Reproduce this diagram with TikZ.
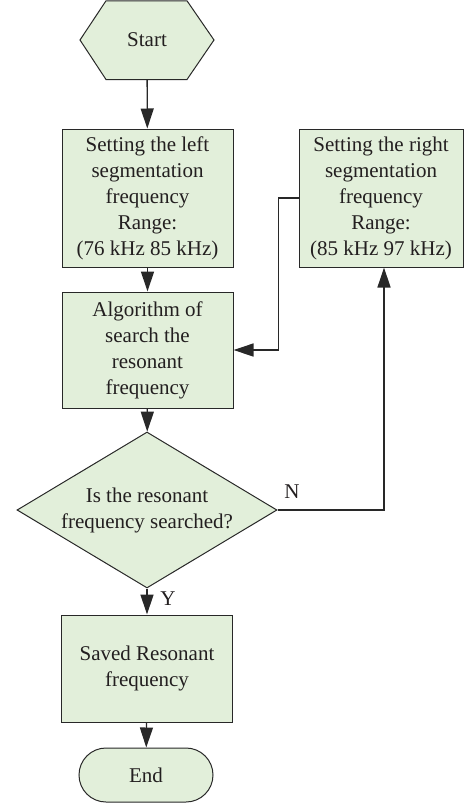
\documentclass[tikz,border=0pt]{standalone}
\usepackage{fontspec}
\setmainfont{Liberation Serif}
\usetikzlibrary{arrows.meta,shapes.geometric,shapes.misc,calc}
\definecolor{boxfill}{RGB}{226,239,218}
\definecolor{edgec}{RGB}{40,40,40}
\definecolor{txt}{RGB}{35,31,32}
\begin{document}
\begin{tikzpicture}[x=1pt,y=-1pt,
  every node/.style={font=\fontsize{21}{26}\selectfont, text=txt},
  proc/.style={draw=edgec, fill=boxfill, line width=1pt, align=center, inner sep=0pt, minimum width=171pt},
  conn/.style={draw=edgec, line width=1.3pt, -{Triangle[length=20pt,width=13pt]}},
  lbl/.style={inner sep=0pt}
]
\useasboundingbox (0,0) rectangle (465,803);
% start hexagon
\draw[draw=edgec, fill=boxfill, line width=1pt] (80,40) -- (106,0.8) -- (187,0.8) -- (214,40) -- (187,79.5) -- (106,79.5) -- cycle;
\node[minimum width=134pt, minimum height=79pt, inner sep=0pt] (start) at (147,40) {Start};

\node[proc, minimum height=138pt] (left) at (147.5,198) {Setting the left\\segmentation\\frequency\\Range:\\(76 kHz 85 kHz)};
\node[proc, minimum width=164pt, minimum height=138pt] (right) at (381,198) {Setting the right\\segmentation\\frequency\\Range:\\(85 kHz 97 kHz)};
\node[proc, minimum height=116pt] (algo) at (147.5,350) {Algorithm of\\search the\\resonant\\frequency};
\node[draw=edgec, fill=boxfill, line width=1pt, diamond, aspect=1.667, minimum width=260pt, minimum height=156pt, inner sep=0pt, align=center] (dec) at (147,510) {Is the resonant\\frequency searched?};
\node[proc, minimum height=107pt] (saved) at (147,668.5) {Saved Resonant\\frequency};
\node[draw=edgec, fill=boxfill, line width=1pt, rounded rectangle, minimum width=134pt, minimum height=54pt, inner sep=0pt] (end) at (146,775) {End};

\draw[conn] (start) -- (left);
\draw[conn] (left) -- (algo);
\draw[conn] (algo) -- (dec);
\draw[conn] (dec) -- (saved);
\draw[conn] (saved) -- (end);
\draw[conn] (right.west) -- ++(-20,0) |- (algo.east);
\draw[conn] (dec.east) -| ([xshift=3pt]right.south);
\node[lbl] (nlab) at (292,492) {N};
\node[lbl] (ylab) at (168,599) {Y};
\end{tikzpicture}
\end{document}
